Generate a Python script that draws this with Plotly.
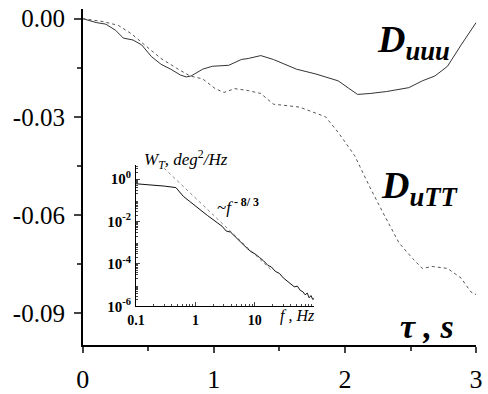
import plotly.graph_objects as go

# Main panel data (tau in s)
tau_uuu = [0, 0.103, 0.177, 0.251, 0.310, 0.384, 0.450, 0.524, 0.598, 0.672, 0.745, 0.790, 0.827,
           0.915, 0.989, 1.114, 1.210, 1.262, 1.358, 1.454, 1.631, 1.779, 1.948, 2.096, 2.192,
           2.317, 2.487, 2.590, 2.686, 2.782, 2.886, 3.0]
d_uuu = [0, -0.00119, -0.00169, -0.00356, -0.00594, -0.00653, -0.00802, -0.01158, -0.01396,
         -0.01545, -0.01723, -0.01782, -0.01752, -0.01545, -0.01455, -0.01426, -0.01248, -0.01218,
         -0.01129, -0.01248, -0.01545, -0.01693, -0.01901, -0.02317, -0.02287, -0.02228, -0.02109,
         -0.01901, -0.01752, -0.01455, -0.00802, -0.00119]

tau_utt = [0, 0.155, 0.273, 0.376, 0.472, 0.598, 0.716, 0.819, 0.915, 1.011, 1.077, 1.159, 1.262,
           1.358, 1.454, 1.653, 1.852, 1.948, 2.074, 2.192, 2.295, 2.413, 2.517, 2.590, 2.664,
           2.782, 2.886, 2.959, 3.0]
d_utt = [0, -0.00089, -0.00208, -0.00475, -0.00802, -0.01218, -0.01515, -0.01752, -0.01842,
         -0.02139, -0.02257, -0.02139, -0.02198, -0.02287, -0.02614, -0.02703, -0.03000, -0.03475,
         -0.04188, -0.05168, -0.05970, -0.06861, -0.07336, -0.07634, -0.07574, -0.07634, -0.07931,
         -0.08347, -0.08436]

# Inset spectrum data
f_hz = [0.1, 0.2, 0.3, 0.47, 0.55, 0.63, 0.8, 1.0, 1.34, 1.6, 2.0, 2.34, 2.8, 3.3, 3.9, 4.6, 5.5,
        6.5, 7.5, 8.7, 10, 12, 14, 16.6, 19, 22, 26, 30, 35, 40, 46, 52, 58, 64, 70, 76, 82, 88, 94, 100]
w_t = [0.603, 0.525, 0.468, 0.398, 0.240, 0.151, 0.0891, 0.0562, 0.0282, 0.0191, 0.0126, 0.0087,
       0.0060, 0.00355, 0.00316, 0.0020, 0.00112, 7.1e-4, 5.2e-4, 3.7e-4, 3.0e-4, 2.0e-4, 1.4e-4,
       8.5e-5, 7.1e-5, 4.5e-5, 3.5e-5, 2.2e-5, 1.55e-5, 1.26e-5, 8.3e-6, 8.9e-6, 5.6e-6, 4.9e-6,
       3.5e-6, 4.2e-6, 2.5e-6, 3.2e-6, 2.1e-6, 2.4e-6]
# ~f^-8/3 reference line end points
f_ref = [0.297, 20]
w_ref = [3.27, 4.4e-5]

SERIF = "Times New Roman, Liberation Serif, serif"

fig = go.Figure()
fig.add_trace(go.Scatter(x=tau_uuu, y=d_uuu, mode="lines",
                         line=dict(color="#333333", width=1), xaxis="x", yaxis="y"))
fig.add_trace(go.Scatter(x=tau_utt, y=d_utt, mode="lines",
                         line=dict(color="#555555", width=1, dash="dot"), xaxis="x", yaxis="y"))
fig.add_trace(go.Scatter(x=f_ref, y=w_ref, mode="lines",
                         line=dict(color="#888888", width=1, dash="dot"), xaxis="x2", yaxis="y2"))
fig.add_trace(go.Scatter(x=f_hz, y=w_t, mode="lines",
                         line=dict(color="#111111", width=1), xaxis="x2", yaxis="y2"))

decade_minor = [m * 10 ** e for e in range(-1, 2) for m in range(2, 10)]
y_minor = [m * 10 ** e for e in range(-6, 1) for m in range(2, 10)]

fig.update_layout(
    width=488, height=394,
    margin=dict(l=0, r=0, t=0, b=0),
    paper_bgcolor="white", plot_bgcolor="white",
    showlegend=False,
    font=dict(family=SERIF, color="black"),
    xaxis=dict(domain=[76 / 488, 482 / 488], range=[0, 3.0005], showgrid=False, zeroline=False,
               showline=True, linecolor="black", linewidth=1.5,
               tickvals=[0, 1, 2, 3], ticks="outside", ticklen=6, tickwidth=1.5,
               tickfont=dict(size=26, family=SERIF), ticklabelstandoff=4,
               ticklabeloverflow="allow",
               minor=dict(tickvals=[0.5, 1.5, 2.5], ticks="outside", ticklen=4, tickwidth=1.5),
               anchor="y"),
    yaxis=dict(domain=[1 - 352 / 394, 1 - 6 / 394], range=[-0.0998, 0.003], showgrid=False,
               zeroline=False, showline=True, linecolor="black", linewidth=1.5,
               tickvals=[0, -0.03, -0.06, -0.09], ticktext=["0.00", "-0.03", "-0.06", "-0.09"],
               ticks="outside", ticklen=7, tickwidth=1.5,
               tickfont=dict(size=25, family=SERIF), ticklabelstandoff=4,
               minor=dict(tickvals=[-0.015, -0.045, -0.075], ticks="outside", ticklen=4, tickwidth=1.5),
               anchor="x"),
    xaxis2=dict(domain=[131 / 488, 315 / 488], type="log", range=[-1, 2], showgrid=False,
                zeroline=False, showline=True, linecolor="black", linewidth=1,
                tickvals=[0.1, 1, 10], ticktext=["<b>0.1</b>", "<b>1</b>", "<b>10</b>"],
                ticks="inside", ticklen=4, tickwidth=1,
                tickfont=dict(size=14, family=SERIF), ticklabelstandoff=1,
                minor=dict(tickvals=decade_minor, ticks="inside", ticklen=2, tickwidth=1),
                anchor="y2"),
    yaxis2=dict(domain=[1 - 312 / 394, 1 - 167 / 394], type="log", range=[-6, 0.65], showgrid=False,
                zeroline=False, showline=True, linecolor="black", linewidth=1,
                tickvals=[1, 1e-2, 1e-4, 1e-6],
                ticktext=["<b>10<sup>0</sup></b>", "<b>10<sup>-2</sup></b>",
                          "<b>10<sup>-4</sup></b>", "<b>10<sup>-6</sup></b>"],
                ticks="inside", ticklen=4, tickwidth=1,
                tickfont=dict(size=15, family=SERIF), ticklabelstandoff=1,
                minor=dict(tickvals=y_minor, ticks="inside", ticklen=2, tickwidth=1),
                anchor="x2"),
)

ann = [
    dict(text="<b><i>D<sub>uuu</sub></i></b>", x=378 / 488, y=1 - 40 / 394,
         xanchor="left", yanchor="middle", font=dict(size=38, family=SERIF)),
    dict(text="<b><i>D<sub>uTT</sub></i></b>", x=382 / 488, y=1 - 190 / 394,
         xanchor="left", yanchor="middle", font=dict(size=38, family=SERIF)),
    dict(text="<b><i>τ , s</i></b>", x=431 / 488, y=1 - 333 / 394,
         xanchor="center", yanchor="middle", font=dict(size=34, family=SERIF)),
    dict(text="<i>W<sub>T</sub>, deg</i><sup>2</sup><i>/Hz</i>", x=137 / 488, y=1 - 161 / 394,
         xanchor="left", yanchor="middle", font=dict(size=17, family=SERIF)),
    dict(text="~<i>f</i><sup><b> - 8/ 3</b></sup>", x=213 / 488, y=1 - 209 / 394,
         xanchor="left", yanchor="middle", font=dict(size=17, family=SERIF)),
    dict(text="<i>f , Hz</i>", x=278 / 488, y=1 - 322 / 394,
         xanchor="left", yanchor="middle", font=dict(size=16, family=SERIF)),
]
for a in ann:
    a.update(xref="paper", yref="paper", showarrow=False)
fig.update_layout(annotations=ann)

fig.write_html("out.html")
